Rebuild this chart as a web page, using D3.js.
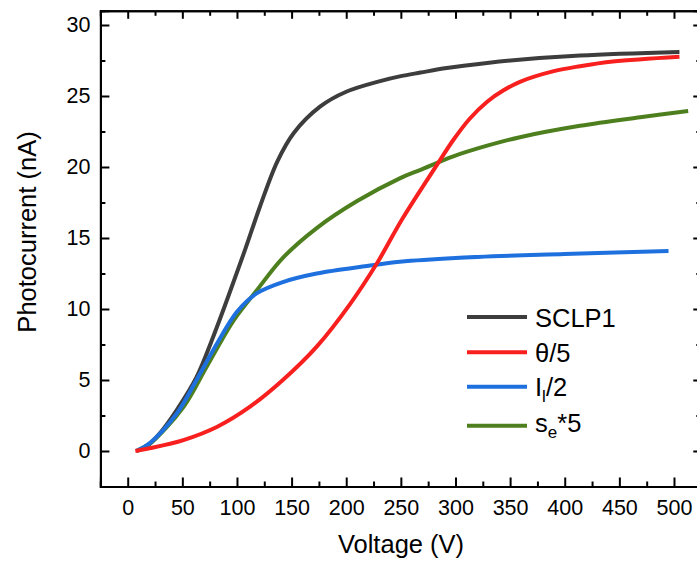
<!DOCTYPE html>
<html>
<head>
<meta charset="utf-8">
<script src="https://cdn.jsdelivr.net/npm/d3@7"></script>
<style>
  html, body { margin: 0; padding: 0; background: #fff; }
  svg { display: block; font-family: "Liberation Sans", Arial, sans-serif; }
</style>
</head>
<body>
<svg id="chart" width="697" height="563"></svg>
<script>
// ---- Data ----
const sclpV = [8, 20, 30, 45, 63, 78, 94, 108, 121, 137, 152, 176, 200, 231, 250, 268, 292, 329, 353, 414, 505];
const sclpI = [0, 0.5, 1.3, 2.9, 5.2, 8.0, 11.3, 14.3, 17.2, 20.4, 22.4, 24.25, 25.3, 26.05, 26.4, 26.65, 26.97, 27.33, 27.52, 27.85, 28.1];

const thetaV = [7, 20, 51, 82, 112, 142, 173, 204, 228, 251, 275, 286, 298, 313, 329, 344, 359, 390, 414, 444, 505];
const thetaI = [0, 0.19, 0.77, 1.71, 3.12, 5.0, 7.35, 10.4, 13.2, 16.3, 19.2, 20.5, 21.9, 23.4, 24.6, 25.4, 26.0, 26.75, 27.1, 27.43, 27.77];

const ilV = [8, 20, 45, 63, 82, 100, 118, 142, 173, 219, 249, 300, 400, 495];
const ilI = [0, 0.54, 2.65, 5.0, 7.6, 9.8, 11.1, 11.9, 12.5, 13.03, 13.33, 13.6, 13.87, 14.08];

const seV = [8, 20, 51, 72, 97, 118, 142, 173, 210, 249, 268, 298, 329, 359, 414, 469, 513];
const seI = [0, 0.5, 3.1, 5.9, 9.2, 11.3, 13.6, 15.7, 17.6, 19.2, 19.8, 20.75, 21.5, 22.1, 22.9, 23.5, 23.94];

const xMajor = [0, 50, 100, 150, 200, 250, 300, 350, 400, 450, 500];
const xMinor = [-25, 25, 75, 125, 175, 225, 275, 325, 375, 425, 475, 525];
const yMajor = [0, 5, 10, 15, 20, 25, 30];
const yMinor = [-2.5, 2.5, 7.5, 12.5, 17.5, 22.5, 27.5];

const seriesNames = ["SCLP1", "theta", "il", "se"];
const seriesColors = { SCLP1: "#3d3d3d", theta: "#f7201f", il: "#1e70de", se: "#4d7f1e" };

// ---- Layout ----
const svg = d3.select("#chart");
const pLeft = 100.4, pRight = 701.3, pTop = 10.8, pBottom = 486.5;

const x = d3.scaleLinear().domain([-25, 525]).range([pLeft, pRight]);
const y = d3.scaleLinear().domain([-2.5, 31]).range([pBottom, pTop]);

function styleAxis(g) {
  g.selectAll("path.domain").attr("stroke", "#000").attr("stroke-width", 2);
  g.selectAll(".tick line").attr("stroke", "#000").attr("stroke-width", 2);
  g.selectAll("text").attr("fill", "#000").style("font-size", "21.5px")
    .style("font-family", '"Liberation Sans", Arial, sans-serif');
}

// Minor ticks
svg.append("g").attr("transform", `translate(0,${pBottom})`)
  .call(d3.axisBottom(x).tickValues(xMinor).tickSize(-5).tickFormat(""))
  .call(styleAxis);
svg.append("g").attr("transform", `translate(0,${pTop})`)
  .call(d3.axisTop(x).tickValues(xMinor).tickSize(-5).tickFormat(""))
  .call(styleAxis);
svg.append("g").attr("transform", `translate(${pLeft},0)`)
  .call(d3.axisLeft(y).tickValues(yMinor).tickSize(-5).tickFormat(""))
  .call(styleAxis);
svg.append("g").attr("transform", `translate(${pRight},0)`)
  .call(d3.axisRight(y).tickValues(yMinor).tickSize(-5).tickFormat(""))
  .call(styleAxis);

// Major ticks
svg.append("g").attr("transform", `translate(0,${pBottom})`)
  .call(d3.axisBottom(x).tickValues(xMajor).tickSize(-9).tickPadding(13).tickFormat(d3.format("d")))
  .call(styleAxis);
svg.append("g").attr("transform", `translate(0,${pTop})`)
  .call(d3.axisTop(x).tickValues(xMajor).tickSize(-8).tickFormat(""))
  .call(styleAxis);
svg.append("g").attr("transform", `translate(${pLeft},0)`)
  .call(d3.axisLeft(y).tickValues(yMajor).tickSize(-9).tickPadding(10).tickFormat(d3.format("d")))
  .call(styleAxis);
svg.append("g").attr("transform", `translate(${pRight},0)`)
  .call(d3.axisRight(y).tickValues(yMajor).tickSize(-8).tickFormat(""))
  .call(styleAxis);

// Axis titles
svg.append("text")
  .attr("x", 401).attr("y", 553)
  .attr("text-anchor", "middle")
  .style("font-size", "25.5px")
  .text("Voltage (V)");
svg.append("text")
  .attr("transform", "translate(36,232) rotate(-90)")
  .attr("text-anchor", "middle")
  .style("font-size", "25.5px")
  .text("Photocurrent (nA)");

// ---- Lines ----
const line = d3.line()
  .x(d => x(d[0]))
  .y(d => y(d[1]))
  .curve(d3.curveCatmullRom.alpha(0.5));

const zip = (a, b) => a.map((v, i) => [v, b[i]]);
const seriesData = {
  SCLP1: zip(sclpV, sclpI),
  theta: zip(thetaV, thetaI),
  il: zip(ilV, ilI),
  se: zip(seV, seI)
};

["SCLP1", "se", "il", "theta"].forEach(k => {
  svg.append("path")
    .datum(seriesData[k])
    .attr("fill", "none")
    .attr("stroke", seriesColors[k])
    .attr("stroke-width", 4)
    .attr("stroke-linecap", "butt")
    .attr("stroke-linejoin", "round")
    .attr("d", line);
});

// ---- Legend ----
const legendY = { SCLP1: 317, theta: 352.3, il: 386.7, se: 425.7 };
const lg = svg.append("g").style("font-size", "25.5px");
seriesNames.forEach(k => {
  lg.append("line")
    .attr("x1", 467).attr("x2", 527)
    .attr("y1", legendY[k]).attr("y2", legendY[k])
    .attr("stroke", seriesColors[k]).attr("stroke-width", 4);
});
lg.append("text").attr("x", 535).attr("y", 326.5).text("SCLP1");
lg.append("text").attr("x", 535).attr("y", 361.5).text("θ/5");
const t3 = lg.append("text").attr("x", 535).attr("y", 396);
t3.append("tspan").text("I");
t3.append("tspan").attr("dy", 6).style("font-size", "17px").text("l");
t3.append("tspan").attr("dy", -6).text("/2");
const t4 = lg.append("text").attr("x", 535).attr("y", 432);
t4.append("tspan").text("s");
t4.append("tspan").attr("dy", 6).style("font-size", "17px").text("e");
t4.append("tspan").attr("dy", -6).text("*5");
</script>
</body>
</html>
